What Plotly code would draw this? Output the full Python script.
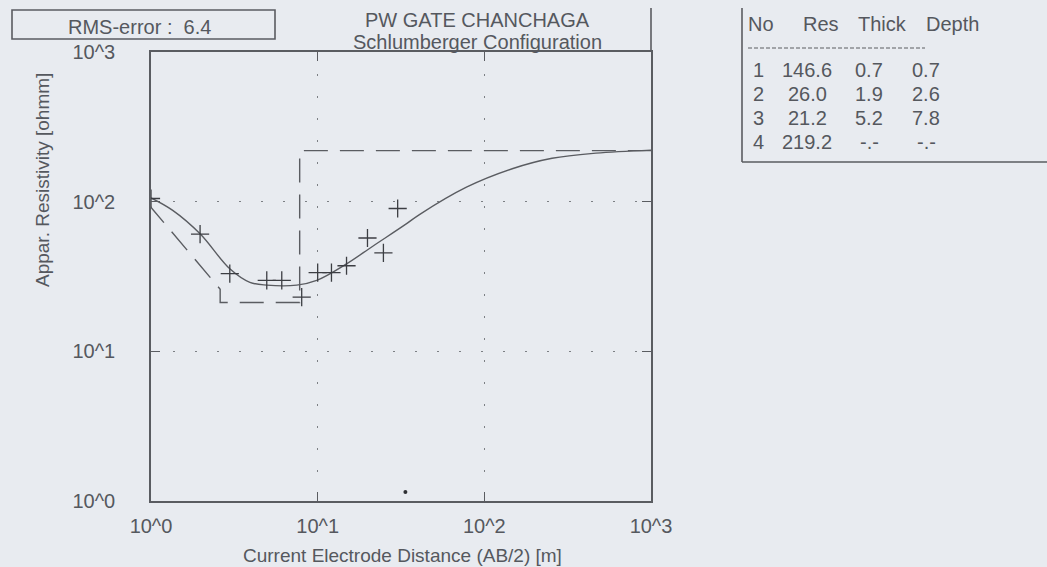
import plotly.graph_objects as go

# ---- data ----
ab2_obs = [1.0, 1.97, 2.97, 4.95, 6.09, 8.02, 10.0, 12.1, 14.9, 19.9, 24.8, 30.2]
rho_obs = [105, 60.7, 33.1, 29.8, 29.8, 23.0, 33.6, 33.6, 37.3, 57.2, 45.5, 90.0]

ab2_fit = [1.0, 1.35, 1.97, 2.97, 3.92, 4.95, 7.49, 9.87, 14.9, 21.3, 34.0, 40.8, 78.1, 147, 255, 467, 1000]
rho_fit = [106, 87.5, 61, 35.6, 28.9, 27.7, 27.7, 29.8, 38.4, 50.2, 71, 82, 125, 166, 195, 211, 221]

stray_x = [33.6]
stray_y = [1.15]

layer_no = ["1", "2", "3", "4"]
layer_res = [146.6, 26.0, 21.2, 219.2]
layer_thick = ["0.7", "1.9", "5.2", "-.-"]
layer_depth = ["0.7", "2.6", "7.8", "-.-"]
depth_vals = [0.7, 2.6, 7.8]
x_end = 1000

rms_error = 6.4
x_ticks = [1, 10, 100, 1000]
x_ticktext = ["10^0", "10^1", "10^2", "10^3"]
y_ticks = [1, 10, 100, 1000]
y_ticktext = ["10^0", "10^1", "10^2", "10^3"]

# ---- layout helpers (page pixel -> paper) ----
W, H = 1047, 567
L, R, T, B = 151, 651, 52, 501
def px(x):
    return (x - L) / (R - L)
def py(y):
    return (B - y) / (B - T)

FONT = "Liberation Sans, Arial, sans-serif"
TXT = "#55585e"
LINE = "#5a5c61"
BG = "#e8ebf0"
FS = 20

# model step line built from the layer table
mx = [depth_vals[0], depth_vals[1], depth_vals[1], depth_vals[2], depth_vals[2], x_end]
my = [layer_res[0], layer_res[1], layer_res[2], layer_res[2], layer_res[3], layer_res[3]]

fig = go.Figure()
fig.add_trace(go.Scatter(x=mx, y=my, mode="lines",
                         line=dict(color=LINE, width=1.4, dash="24px,12px"),
                         hoverinfo="skip", showlegend=False))
fig.add_trace(go.Scatter(x=ab2_fit, y=rho_fit, mode="lines", line_shape="spline",
                         line=dict(color=LINE, width=1.4), showlegend=False))
fig.add_trace(go.Scatter(x=ab2_obs, y=rho_obs, mode="markers",
                         marker=dict(symbol="cross-thin", size=13,
                                     line=dict(color="#3c3e43", width=1.3)),
                         showlegend=False))
fig.add_trace(go.Scatter(x=stray_x, y=stray_y, mode="markers",
                         marker=dict(symbol="circle", size=4, color="#2e3034"),
                         showlegend=False))

axis_common = dict(type="log", showline=True, linecolor=LINE, linewidth=1.6,
                   mirror="ticks", ticks="inside", ticklen=9, tickcolor=LINE, tickwidth=1.4,
                   showgrid=True, gridcolor="#7c7f84", gridwidth=1.2, griddash="2px,20px",
                   zeroline=False, tickfont=dict(family=FONT, size=FS, color=TXT))

fig.update_xaxes(range=[0, 3], tickvals=x_ticks, ticktext=x_ticktext,
                 ticklabelstandoff=6, **axis_common)
fig.update_yaxes(range=[0, 3], tickvals=y_ticks, ticktext=y_ticktext,
                 ticklabelstandoff=30, **axis_common)

def label(xp, yp, text, xanchor="center", size=FS, angle=0):
    return dict(x=px(xp), y=py(yp), text=text, xanchor=xanchor, yanchor="middle",
                textangle=angle, xref="paper", yref="paper", showarrow=False,
                font=dict(family=FONT, size=size, color=TXT))

ann = [
    label(402, 555, "Current Electrode Distance (AB/2) [m]", size=19),
    label(42, 180, "Appar. Resistivity [ohmm]", size=19, angle=-90),
    label(477, 20, "PW GATE CHANCHAGA"),
    label(477, 42, "Schlumberger Configuration"),
    label(139, 27, f"RMS-error :  {rms_error}"),
]

# layer table
hdr_y = 24
ann += [label(761, hdr_y, "No"), label(821, hdr_y, "Res"),
        label(882, hdr_y, "Thick"), label(952, hdr_y, "Depth")]
row_y = [70, 94, 118, 142]
col_x = [758, 807, 869, 926]
for i in range(len(layer_no)):
    ann.append(label(col_x[0], row_y[i], layer_no[i]))
    ann.append(label(col_x[1], row_y[i], f"{layer_res[i]:.1f}"))
    ann.append(label(col_x[2], row_y[i], layer_thick[i]))
    ann.append(label(col_x[3], row_y[i], layer_depth[i]))

def seg(x0, y0, x1, y1, dash="solid", width=1.6):
    return dict(type="line", xref="paper", yref="paper", x0=px(x0), x1=px(x1),
                y0=py(y0), y1=py(y1), line=dict(color=LINE, width=width, dash=dash))

shapes = [
    dict(type="rect", xref="paper", yref="paper", x0=px(12), x1=px(275), y0=py(39), y1=py(10),
         line=dict(color=LINE, width=1.6)),
    seg(R, T, R, 8),
    seg(742, 8, 742, 162),
    seg(742, 162, 1047, 162),
    seg(748, 48, 925, 48, dash="4px,2px", width=1),
]

fig.update_layout(width=W, height=H,
                  margin=dict(l=L, r=W - R, t=T, b=H - B),
                  paper_bgcolor=BG, plot_bgcolor=BG, annotations=ann, shapes=shapes,
                  showlegend=False)

page_js = ("document.body.style.margin='0';"
           "document.body.style.overflow='hidden';"
           "document.body.style.background='" + BG + "';")
fig.write_html("out.html", post_script=page_js, config={"displayModeBar": False})
